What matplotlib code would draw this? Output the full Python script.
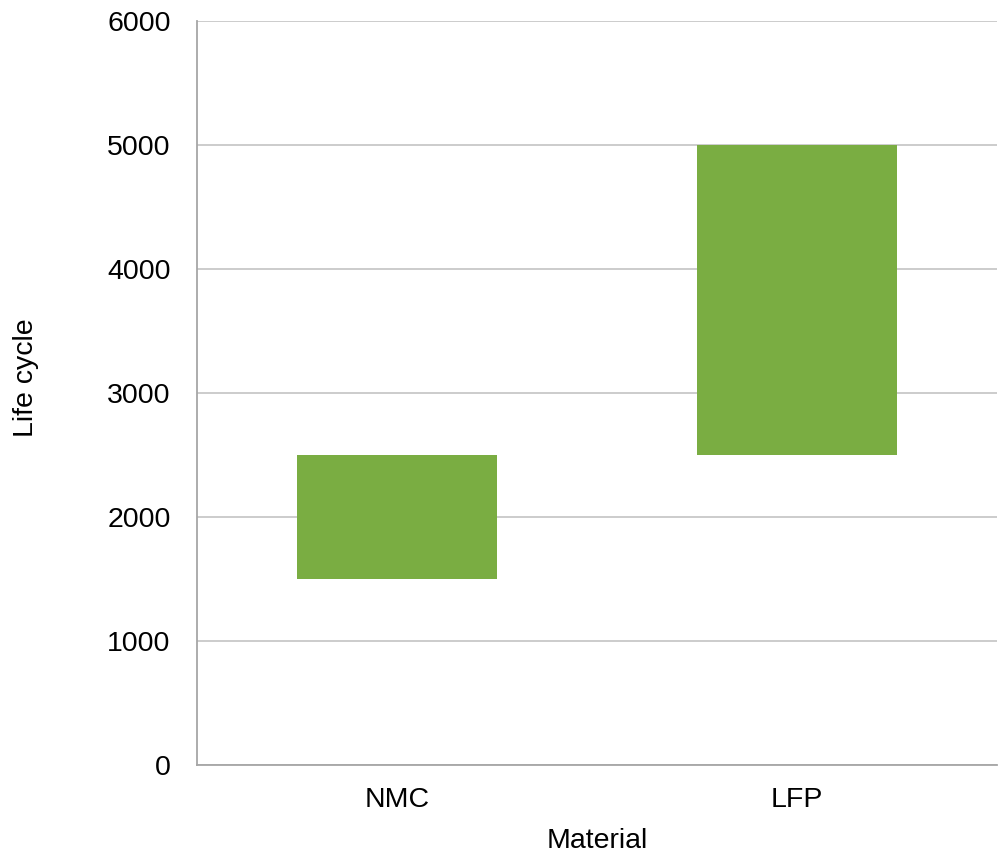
import matplotlib.pyplot as plt

plt.rcParams['font.family'] = ['Liberation Sans', 'DejaVu Sans']

materiales = ["NMC", "LFP"]
ciclo_min = [1500, 2500]
ciclo_max = [2500, 5000]
alturas = [hi - lo for lo, hi in zip(ciclo_min, ciclo_max)]

fig = plt.figure(figsize=(9.98, 8.55), dpi=100)
ax = fig.add_axes([0.1974, 0.1053, 0.8016, 0.8701])

# barras flotantes: desde el minimo hasta el maximo de ciclos
ax.bar(materiales, alturas, bottom=ciclo_min, width=0.5, color="#7AAD42", zorder=3)

ax.set_xlim(-0.5, 1.5)
ax.set_ylim(0, 6000)
ax.set_yticks(range(0, 6001, 1000))
ax.grid(axis="y", color="#BFBFBF", linewidth=1.1, zorder=0)

for lado in ["top", "right"]:
    ax.spines[lado].set_visible(False)
for lado in ["left", "bottom"]:
    ax.spines[lado].set_color("#A6A6A6")
    ax.spines[lado].set_linewidth(1.3)

ax.tick_params(axis="y", length=0, pad=19, labelsize=20.5)
ax.tick_params(axis="x", length=0, pad=16, labelsize=20.5)

ax.set_xlabel("Material", fontsize=20.5, labelpad=11)
ax.set_ylabel("Life cycle", fontsize=20.5)
ax.yaxis.set_label_coords(-0.198, 0.52)

fig.savefig("out.png", dpi=100)
